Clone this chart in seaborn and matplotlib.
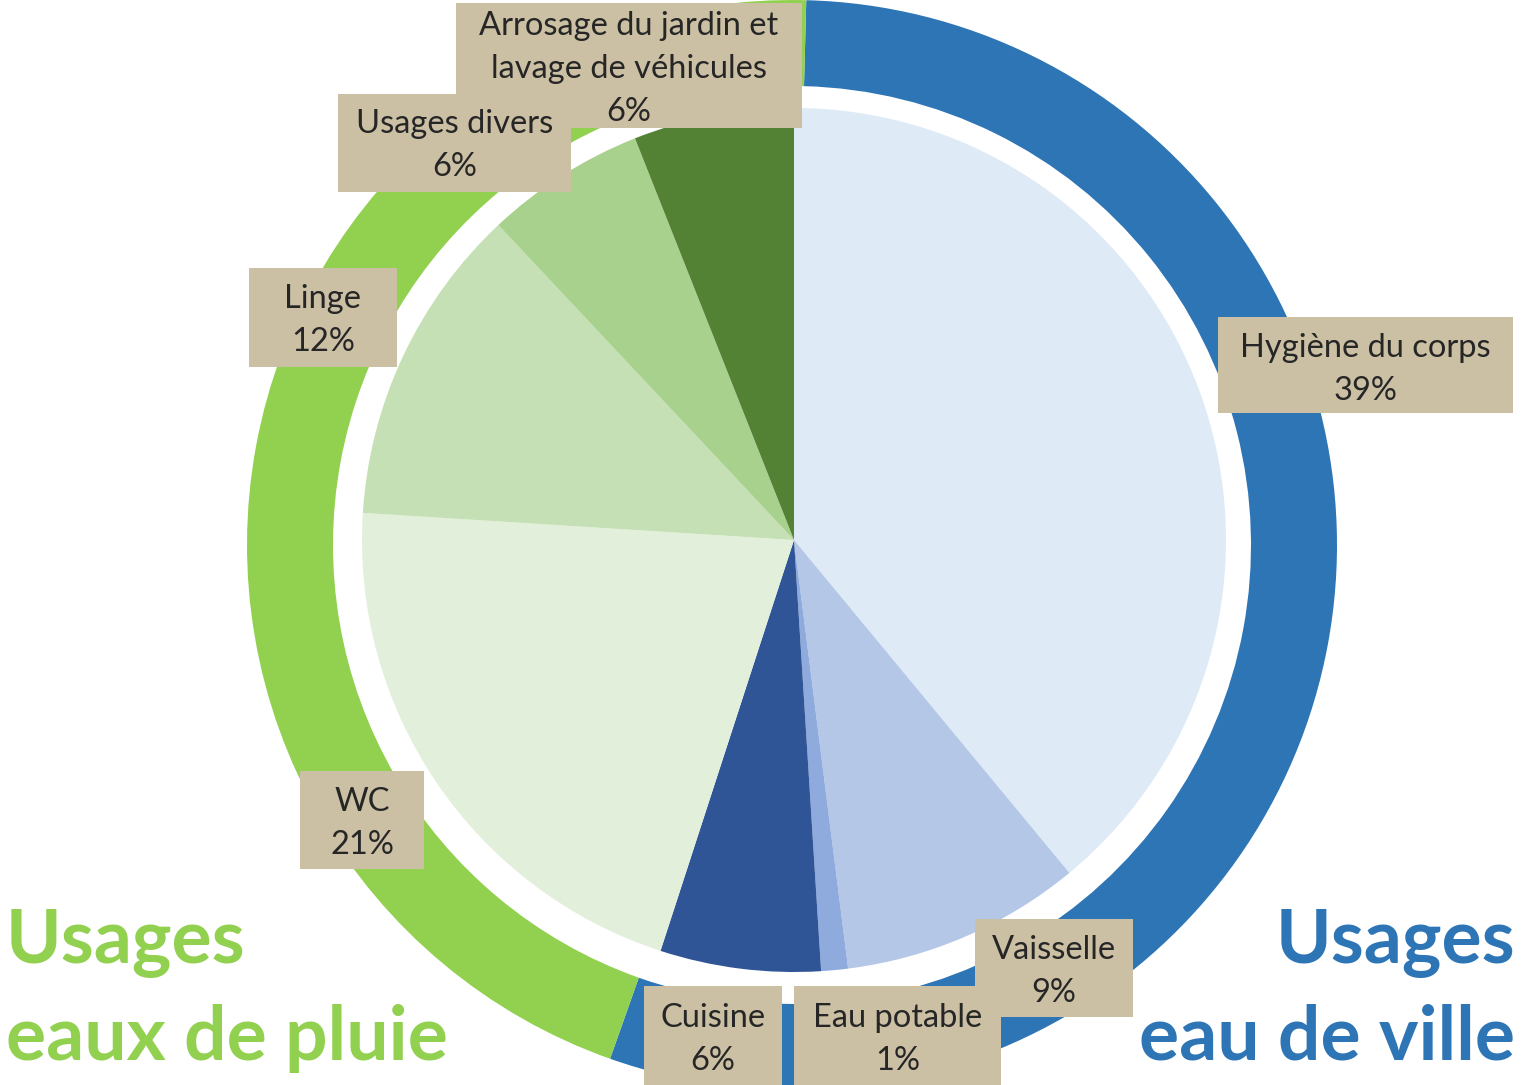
import matplotlib
matplotlib.use("Agg")
import matplotlib.pyplot as plt
from matplotlib.patches import Rectangle
import seaborn as sns

sns.set_theme(style="white")
plt.rcParams['font.family'] = ['Lato', 'DejaVu Sans']

# ---- data ----
inner_labels = ["Hygiène du corps", "Vaisselle", "Eau potable", "Cuisine",
                "WC", "Linge", "Usages divers", "Arrosage du jardin et\nlavage de véhicules"]
inner_values = [39, 9, 1, 6, 21, 12, 6, 6]
inner_colors = ["#DEEAF6", "#B4C7E7", "#8FAADC", "#2F5597",
                "#E2EFDA", "#C5E0B4", "#A9D18E", "#548235"]

outer_labels = ["Usages\neau de ville", "Usages\neaux de pluie"]
outer_values = [55, 45]
outer_colors = ["#2E75B6", "#92D050"]

# ---- layout (pixel coords, y from top) ----
W, H = 1523, 1085
# label boxes: x0, x1, y0, y1
label_boxes = [(1218, 1513, 317, 413), (975, 1133, 919, 1017), (794, 1001, 986, 1085),
               (644, 782, 986, 1085), (300, 424, 771, 869), (249, 397, 268, 367),
               (338, 571, 94, 192), (456, 802, 3, 128)]
label_z = [5, 6, 7, 8, 9, 10, 12, 11]
# first baseline of each label
label_base = [357, 959, 1027, 1027, 811, 308, 133, 35]
line_gap = 43

fig = plt.figure(figsize=(W / 100, H / 100), dpi=100)
ax = fig.add_axes([0, 0, 1, 1])
ax.set_xlim(0, W)
ax.set_ylim(0, H)
ax.set_aspect("equal")
ax.axis("off")

# outer ring
ax.pie(outer_values, colors=outer_colors, startangle=88.5, counterclock=False,
       center=(792, H - 545), radius=545,
       wedgeprops=dict(width=86, linewidth=0))
# inner pie
ax.pie(inner_values, colors=inner_colors, startangle=90, counterclock=False,
       center=(794, H - 540), radius=432,
       wedgeprops=dict(linewidth=0))
ax.set_xlim(0, W)
ax.set_ylim(0, H)

for lab, val, (x0, x1, y0, y1), b, z in zip(inner_labels, inner_values,
                                            label_boxes, label_base, label_z):
    ax.add_patch(Rectangle((x0, H - y1), x1 - x0, y1 - y0, facecolor="#CBBFA4",
                           edgecolor="none", zorder=z))
    lines = lab.split("\n") + [f"{val}%"]
    xc = (x0 + x1) / 2
    for k, ln in enumerate(lines):
        ax.text(xc, H - (b + k * line_gap), ln, ha="center", va="baseline",
                fontsize=23.5, color="#262626", zorder=z + 0.5)

# big category texts
big_base = [963, 1060]
for k, ln in enumerate(outer_labels[1].split("\n")):
    ax.text(6, H - big_base[k], ln, ha="left", va="baseline",
            fontsize=54, fontweight="bold", color=outer_colors[1])
for k, ln in enumerate(outer_labels[0].split("\n")):
    ax.text(1515, H - big_base[k], ln, ha="right", va="baseline",
            fontsize=54, fontweight="bold", color=outer_colors[0])

fig.savefig("out.png", dpi=100)
